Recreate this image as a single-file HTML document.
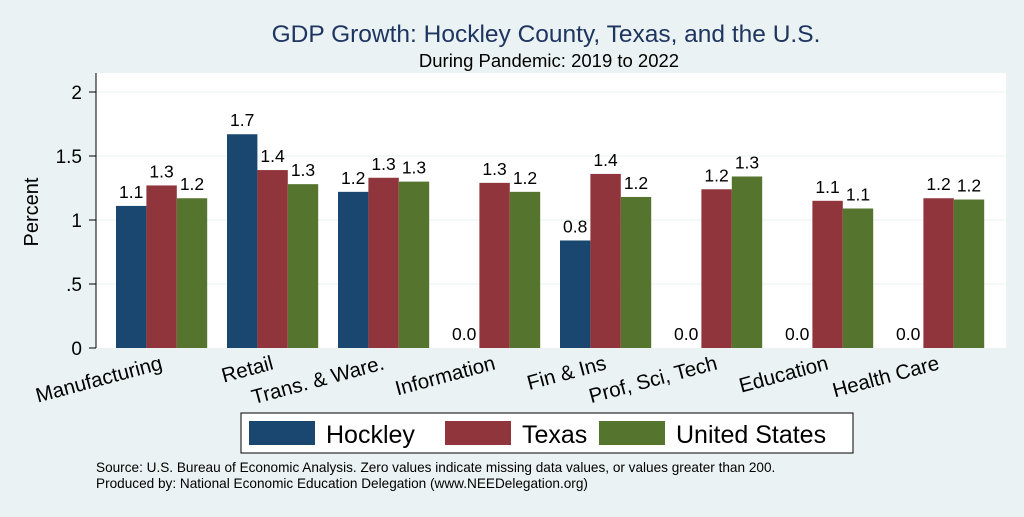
<!DOCTYPE html>
<html><head><meta charset="utf-8"><style>
body{margin:0;width:1024px;height:512px;background:#eaf2f3;font-family:"Liberation Sans",sans-serif;overflow:hidden}
</style></head><body>
<svg id="c" width="1024" height="512" xmlns="http://www.w3.org/2000/svg">
<text x="546" y="42" text-anchor="middle" font-size="24.5" fill="#1e3560">GDP Growth: Hockley County, Texas, and the U.S.</text>
<text x="549" y="67" text-anchor="middle" font-size="18.5" fill="#000">During Pandemic: 2019 to 2022</text>
<rect x="96" y="73" width="910" height="275" fill="#fff"/>
<g id="grid"></g><g id="bars"></g><g id="axis"></g>
<text transform="translate(38,212) rotate(-90)" text-anchor="middle" font-size="20">Percent</text>
<rect x="241" y="413" width="612" height="40" fill="#fff" stroke="#000" stroke-width="1"/>
<g><rect x="249" y="421" width="66" height="24" fill="#1a476f"/><text x="326" y="443" font-size="25">Hockley</text></g>
<g><rect x="445" y="421" width="66" height="24" fill="#90353b"/><text x="522" y="443" font-size="25">Texas</text></g>
<g><rect x="599" y="421" width="66" height="24" fill="#55752f"/><text x="676" y="443" font-size="25">United States</text></g>
<text x="96" y="472" font-size="13.6">Source: U.S. Bureau of Economic Analysis. Zero values indicate missing data values, or values greater than 200.</text>
<text x="96" y="488" font-size="13.6">Produced by: National Economic Education Delegation (www.NEEDelegation.org)</text>
</svg>
<script>
const categories=["Manufacturing","Retail","Trans. & Ware.","Information","Fin & Ins","Prof, Sci, Tech","Education","Health Care"];
const hockley=[1.11,1.67,1.22,0,0.84,0,0,0];
const texas=[1.27,1.39,1.33,1.29,1.36,1.24,1.15,1.17];
const us=[1.17,1.28,1.30,1.22,1.18,1.34,1.09,1.16];
const yTicks=[0,0.5,1,1.5,2];
const yTickLabels=["0",".5","1","1.5","2"];
const NS="http://www.w3.org/2000/svg";
const y=v=>348-v*128;
const x=(i,s)=>116+i*111+s*30.4;
function mk(t,a,p){const e=document.createElementNS(NS,t);for(const k in a)e.setAttribute(k,a[k]);document.getElementById(p).appendChild(e);return e;}
yTicks.forEach((t,i)=>{
 if(t>0){const g=mk('line',{x1:96,x2:1006,y1:y(t),y2:y(t),stroke:'#eaf2f3','stroke-width':1},'grid');
 
 }
 const k=mk('line',{x1:89,x2:96,y1:y(t),y2:y(t),stroke:'#000'},'axis');
 
 
 const l=mk('text',{x:82,y:y(t)+7,'text-anchor':'end','font-size':19},'axis');l.textContent=yTickLabels[i];
 
 
});
const ax=mk('line',{x1:96,x2:96,y1:73,y2:348,stroke:'#000'},'axis');


const series=[[hockley,'#1a476f','hockley'],[texas,'#90353b','texas'],[us,'#55752f','us']];
categories.forEach((c,i)=>{
 series.forEach(([d,col,n],s)=>{
  const v=d[i];
  const r=mk('rect',{x:x(i,s),y:y(v),width:30.4,height:v*128,fill:col},'bars');
  
  
  const t=mk('text',{x:x(i,s)+15.2,y:y(v)-8,'text-anchor':'middle','font-size':17.5},'bars');t.textContent=v.toFixed(1);
  
  
 });
 const cx=x(i,1)+15;
 const l=mk('text',{x:cx+2,y:369,'text-anchor':'end','font-size':20.5,transform:`rotate(-15 ${cx+2} 369)`},'axis');l.textContent=c;
 
 
});
</script>
</body></html>
